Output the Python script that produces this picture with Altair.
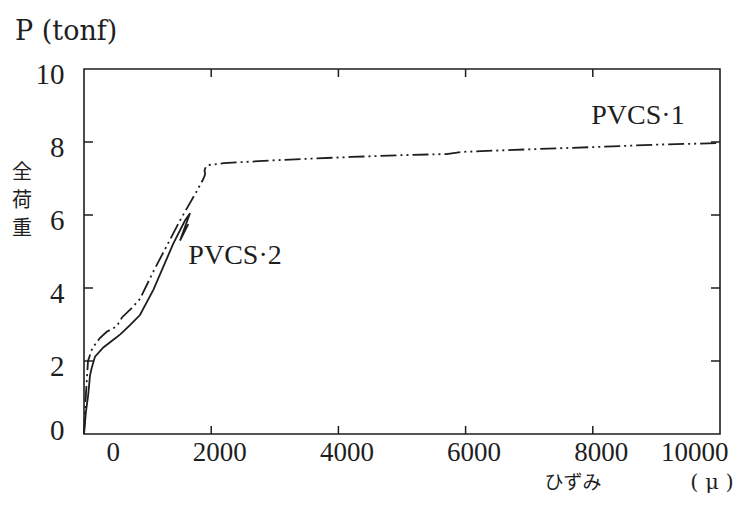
import altair as alt
import pandas as pd

# ---- data ----
pvcs1_strain = [0, 20, 45, 63, 120, 173, 250, 357, 514, 600, 750, 880, 1090, 1300,
                1509, 1772, 1880, 1905, 1895, 1915, 1960, 2200, 3000, 4200, 5000,
                5700, 5950, 7000, 8000, 9060, 10000]
pvcs1_load = [0, 0.8, 1.5, 2.0, 2.3, 2.45, 2.63, 2.8, 2.95, 3.2, 3.45, 3.7, 4.45, 5.15,
              5.85, 6.65, 7.0, 7.12, 7.22, 7.32, 7.37, 7.42, 7.5, 7.59, 7.64,
              7.67, 7.73, 7.8, 7.86, 7.93, 7.97]

pvcs2_strain = [0, 30, 68, 94, 120, 173, 304, 461, 570, 723, 880, 1090, 1400, 1588,
                1667, 1510, 1640]
pvcs2_load = [0, 0.6, 1.1, 1.6, 1.8, 2.12, 2.37, 2.58, 2.73, 2.98, 3.26, 3.95, 5.2, 5.85,
              6.05, 5.3, 5.75]

x_tick_values = [0, 2000, 4000, 6000, 8000, 10000]
y_tick_values = [0, 2, 4, 6, 8, 10]
x_inner_ticks = [2000, 4000, 6000, 8000]
y_inner_ticks = [2, 4, 6, 8]

series_labels = ["PVCS·1", "PVCS·2"]
series_label_x = [8710, 2375]
series_label_y = [8.71, 4.88]

y_title = "P (tonf)"
y_name = "全\n荷\n重"
x_name = "ひずみ"
x_unit = "( μ )"

# ---- build ----
W, H = 636, 365
INK = "#1e1e1e"
NUM_FONT = "Liberation Serif"
JP_FONT = "Noto Sans CJK JP"

df1 = pd.DataFrame({"x": pvcs1_strain, "y": pvcs1_load, "i": range(len(pvcs1_strain))})
df2 = pd.DataFrame({"x": pvcs2_strain, "y": pvcs2_load, "i": range(len(pvcs2_strain))})
dfl = pd.DataFrame({"x": series_label_x, "y": series_label_y, "t": series_labels})
dfxt = pd.DataFrame({"x": x_inner_ticks})
dfyt = pd.DataFrame({"y": y_inner_ticks})

xs = alt.Scale(domain=[0, 10000], nice=False, zero=False)
ys = alt.Scale(domain=[0, 10], nice=False, zero=False)

x_axis = alt.Axis(values=x_tick_values, format="d", title=None, domain=False, ticks=False,
                  grid=False, labelOverlap=False,
                  labelFont=NUM_FONT, labelFontSize=27, labelColor=INK, labelPadding=5,
                  labelFlush=True,
                  labelOffset={"condition": {"test": "datum.value == 0", "value": 22}, "value": 8})
y_axis = alt.Axis(values=y_tick_values, format="d", title=None, domain=False, ticks=False,
                  grid=False, labelOverlap=False,
                  labelFont=NUM_FONT, labelFontSize=29, labelColor=INK, labelPadding=20,
                  labelFlush=False,
                  labelOffset={"condition": {"test": "datum.value == 0", "value": -4}, "value": 5})

line1 = alt.Chart(df1).mark_line(color=INK, strokeWidth=1.8,
                                 strokeDash=[16, 4, 2, 4, 2, 4]).encode(
    x=alt.X("x:Q", scale=xs, axis=x_axis),
    y=alt.Y("y:Q", scale=ys, axis=y_axis),
    order="i:Q",
)
line2 = alt.Chart(df2).mark_line(color=INK, strokeWidth=1.8).encode(
    x=alt.X("x:Q", scale=xs),
    y=alt.Y("y:Q", scale=ys),
    order="i:Q",
)
labels = alt.Chart(dfl).mark_text(font=NUM_FONT, fontSize=28, color=INK,
                                  baseline="middle", align="center").encode(
    x=alt.X("x:Q", scale=xs), y=alt.Y("y:Q", scale=ys), text="t:N")

tick_b = alt.Chart(dfxt).mark_rule(color=INK, strokeWidth=1.5).encode(
    x=alt.X("x:Q", scale=xs), y=alt.value(H), y2=alt.value(H - 8))
tick_t = alt.Chart(dfxt).mark_rule(color=INK, strokeWidth=1.5).encode(
    x=alt.X("x:Q", scale=xs), y=alt.value(0), y2=alt.value(8))
tick_l = alt.Chart(dfyt).mark_rule(color=INK, strokeWidth=1.5).encode(
    y=alt.Y("y:Q", scale=ys), x=alt.value(0), x2=alt.value(9))
tick_r = alt.Chart(dfyt).mark_rule(color=INK, strokeWidth=1.5).encode(
    y=alt.Y("y:Q", scale=ys), x=alt.value(W), x2=alt.value(W - 9))


def note(txt, px, py, font, size, align="center", line_height=28):
    return alt.Chart(pd.DataFrame({"t": [txt]})).mark_text(
        font=font, fontSize=size, color=INK, align=align, baseline="middle",
        lineBreak="\n", lineHeight=line_height,
    ).encode(text="t:N", x=alt.value(px), y=alt.value(py))


t_p = note(y_title, -69, -37, "DejaVu Serif", 27, align="left")
t_yn = note(y_name, -62, 104, JP_FONT, 20)
t_xn = note(x_name, 489, 414, JP_FONT, 19)
t_xu = note(x_unit, 628, 414, "DejaVu Serif", 21)

chart = alt.layer(line1, line2, labels, tick_b, tick_t, tick_l, tick_r,
                  t_p, t_yn, t_xn, t_xu).properties(
    width=W, height=H,
    autosize=alt.AutoSizeParams(type="none"),
    padding={"left": 76, "top": 61, "right": 19, "bottom": 62},
    background="white",
).configure_view(stroke=INK, strokeWidth=1.6)

chart.save("out.html", embed_options={"renderer": "svg", "actions": False})
